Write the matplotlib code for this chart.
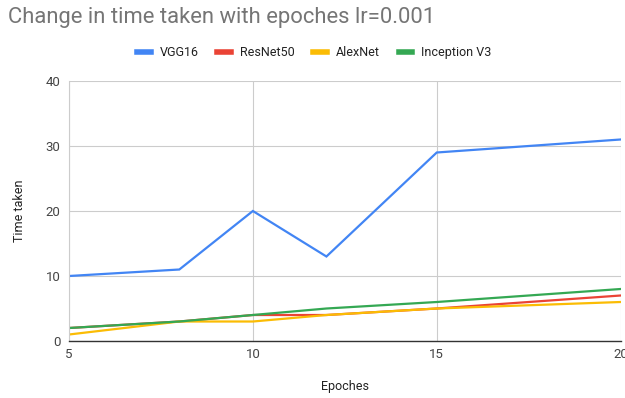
import matplotlib.pyplot as plt

plt.rcParams['font.family'] = ['Roboto', 'DejaVu Sans']

epochs = [5, 8, 10, 12, 15, 20]
vgg16 = [10, 11, 20, 13, 29, 31]
resnet50 = [2, 3, 4, 4, 5, 7]
alexnet = [1, 3, 3, 4, 5, 6]
inception_v3 = [2, 3, 4, 5, 6, 8]

series = [
    ("VGG16", vgg16, "#4285F4"),
    ("ResNet50", resnet50, "#EA4335"),
    ("AlexNet", alexnet, "#FBBC04"),
    ("Inception V3", inception_v3, "#34A853"),
]

fig = plt.figure(figsize=(6.25, 3.98), dpi=100)
ax = fig.add_axes([0.1104, 0.1432, 0.8826, 0.6533])

for name, vals, col in series:
    ax.plot(epochs, vals, color=col, lw=1.6, label=name, solid_joinstyle='miter')

ax.set_xlim(5, 20)
ax.set_ylim(0, 40)
ax.set_xticks([5, 10, 15, 20])
ax.set_yticks([0, 10, 20, 30, 40])
ax.grid(True, color="#cccccc", lw=0.8)
ax.set_axisbelow(True)
for s in ["top", "right"]:
    ax.spines[s].set_visible(False)
ax.spines["left"].set_color("#cccccc")
ax.spines["left"].set_linewidth(0.8)
ax.spines["bottom"].set_color("#333333")
ax.spines["bottom"].set_linewidth(1.0)
ax.tick_params(length=0, labelsize=9.5, colors="#444444", pad=6)
ax.tick_params(axis='x', pad=5)

ax.set_xlabel("Epoches", fontsize=9, color="#222222", labelpad=14)
ax.set_ylabel("Time taken", fontsize=9, color="#222222", labelpad=14)

fig.text(0.013, 0.955, "Change in time taken with epoches lr=0.001",
         fontsize=15.8, color="#757575", va="center", ha="left")

leg = fig.legend(loc="center", bbox_to_anchor=(0.503, 0.868), ncol=4,
                 frameon=False, fontsize=9, handlelength=1.1,
                 handletextpad=0.7, columnspacing=1.5)
for h in leg.get_lines():
    h.set_linewidth(4)
for t in leg.get_texts():
    t.set_color("#222222")

fig.savefig("out.png", dpi=100)
